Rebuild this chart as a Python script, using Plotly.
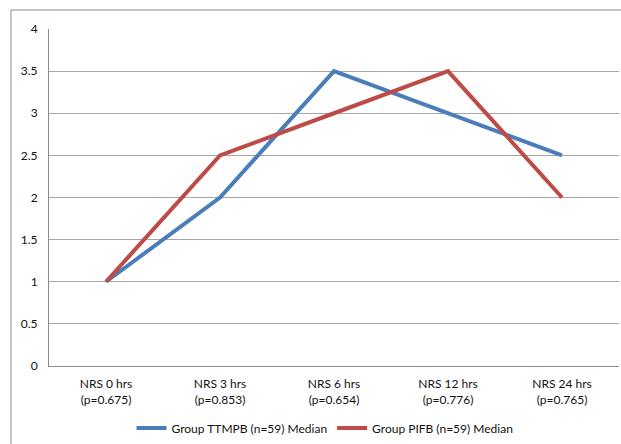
import plotly.graph_objects as go

categories = ["NRS 0 hrs<br>(p=0.675)", "NRS 3 hrs<br>(p=0.853)", "NRS 6 hrs<br>(p=0.654)",
              "NRS 12 hrs<br>(p=0.776)", "NRS 24 hrs<br>(p=0.765)"]
ttmpb = [1, 2, 3.5, 3, 2.5]
pifb = [1, 2.5, 3, 3.5, 2]
y_ticks = [0, 0.5, 1, 1.5, 2, 2.5, 3, 3.5, 4]

W, H = 621, 444
ml, mr, mt, mb = 49, 2, 29, 78
pw, ph = W - ml - mr, H - mt - mb

fig = go.Figure()
fig.add_trace(go.Scatter(x=categories, y=ttmpb, mode="lines", name="Group TTMPB (n=59) Median",
                         line=dict(color="#4A7EBB", width=4)))
fig.add_trace(go.Scatter(x=categories, y=pifb, mode="lines", name="Group PIFB (n=59) Median",
                         line=dict(color="#BE4B48", width=4)))

fig.update_layout(
    width=W, height=H,
    margin=dict(l=ml, r=mr, t=mt, b=mb, autoexpand=False),
    paper_bgcolor="white", plot_bgcolor="white",
    font=dict(family="Lato, Open Sans, sans-serif", size=12, color="#111111"),
    showlegend=True,
    legend=dict(orientation="h", xref="container", yref="container",
                x=325 / W, xanchor="center", y=(H - 428) / H, yanchor="middle",
                font=dict(size=12), itemwidth=30, tracegroupgap=0),
    xaxis=dict(type="category", range=[-0.5, 4.5], showgrid=False, showline=True,
               linecolor="#8C8C8C", linewidth=1, ticks="", tickfont=dict(size=12),
               ticklabelstandoff=7, automargin=False, fixedrange=True),
    yaxis=dict(range=[0, 4], tickvals=y_ticks, ticktext=[f"{v:g}" for v in y_ticks],
               showgrid=True, gridcolor="#A6A6A6", gridwidth=1, showline=True,
               linecolor="#8C8C8C", linewidth=1, ticks="", zeroline=False,
               ticklabelstandoff=8, automargin=False, tickfont=dict(size=12)),
    shapes=[dict(type="rect", xref="paper", yref="paper",
                 x0=(11 - ml) / pw, x1=(W + 20 - ml) / pw,
                 y0=-(mb + 20) / ph, y1=(H - mb - 10) / ph,
                 line=dict(color="#8C8C8C", width=1), fillcolor="rgba(0,0,0,0)")],
)

fig.write_html("out.html", config={"displayModeBar": False},
               post_script="document.body.style.margin='0';document.body.style.overflow='hidden';")
